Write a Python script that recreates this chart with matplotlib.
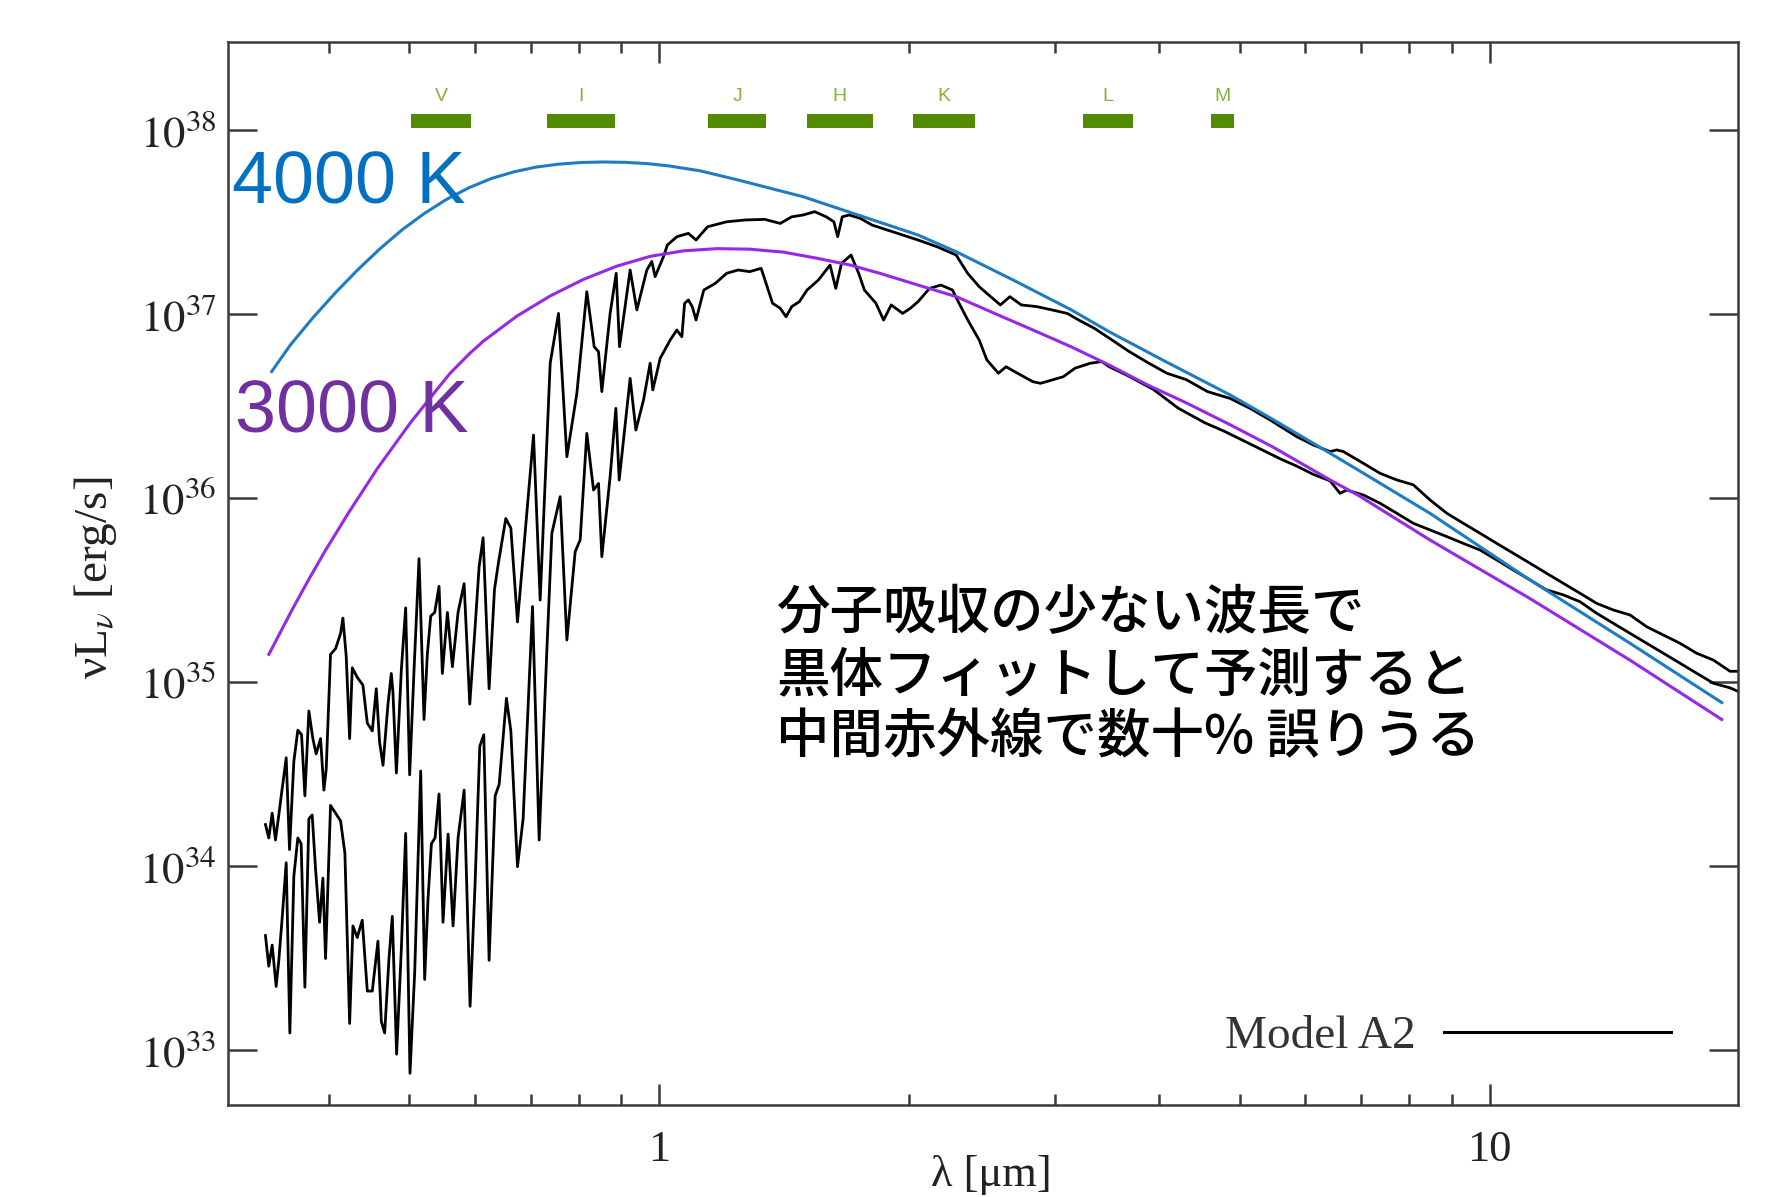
import numpy as np
import matplotlib
matplotlib.use('Agg')
import matplotlib.pyplot as plt
from matplotlib.lines import Line2D
from matplotlib import transforms
from matplotlib.ticker import LogLocator, NullLocator, NullFormatter

plt.rcParams['font.family'] = ['Liberation Serif', 'DejaVu Serif']
plt.rcParams['mathtext.fontset'] = 'stix'

#%% values read off the figure : log10(lambda / um) and log10(nuL_nu / erg s-1)
log_lam_upper = [
    -0.4745, -0.4705, -0.4664, -0.4624, -0.4584, -0.4552, -0.4495, -0.4455, -0.4403, -0.4355,
    -0.4310, -0.4270, -0.4222, -0.4174, -0.4134, -0.4081, -0.4041, -0.4013, -0.3961, -0.3900,
    -0.3840, -0.3812, -0.3772, -0.3731, -0.3699, -0.3639, -0.3571, -0.3518, -0.3458, -0.3410,
    -0.3370, -0.3329, -0.3269, -0.3229, -0.3209, -0.3168, -0.3108, -0.3056, -0.3008, -0.2955,
    -0.2895, -0.2835, -0.2795, -0.2754, -0.2706, -0.2654, -0.2614, -0.2553, -0.2493, -0.2425,
    -0.2352, -0.2284, -0.2220, -0.2171, -0.2123, -0.2051, -0.1986, -0.1938, -0.1850, -0.1789,
    -0.1709, -0.1516, -0.1436, -0.1315, -0.1215, -0.1114, -0.0994, -0.0874, -0.0785, -0.0733,
    -0.0693, -0.0593, -0.0520, -0.0480, -0.0352, -0.0271, -0.0151, -0.0091, -0.0051, 0.0050,
    0.0097, 0.0212, 0.0350, 0.0442, 0.0581, 0.0811, 0.1042, 0.1272, 0.1456, 0.1595,
    0.1733, 0.1871, 0.2010, 0.2102, 0.2148, 0.2203, 0.2286, 0.2424, 0.2563, 0.2747,
    0.2931, 0.3116, 0.3346, 0.3577, 0.3600, 0.3715, 0.3853, 0.3991, 0.4107, 0.4222,
    0.4360, 0.4545, 0.4729, 0.4913, 0.5052, 0.5236, 0.5421, 0.5651, 0.5882, 0.6112,
    0.6347, 0.6603, 0.6875, 0.7115, 0.7356, 0.7678, 0.7878, 0.8079, 0.8159, 0.8240,
    0.8481, 0.8681, 0.8882, 0.9083, 0.9284, 0.9485, 0.9685, 0.9886, 1.0087, 1.0288,
    1.0488, 1.0689, 1.0890, 1.1090, 1.1291, 1.1492, 1.1693, 1.1893, 1.2094, 1.2295,
    1.2495, 1.2696, 1.2816, 1.2897, 1.2977]
log_lum_upper = [
    34.227, 34.154, 34.289, 34.143, 34.279, 34.393, 34.590, 34.091, 34.570, 34.740,
    34.715, 34.383, 34.844, 34.694, 34.611, 34.694, 34.414, 34.528, 35.152, 35.183,
    35.266, 35.349, 35.141, 34.694, 35.079, 35.027, 34.985, 34.778, 34.736, 34.965,
    34.674, 34.549, 34.881, 35.048, 34.944, 34.507, 35.069, 35.405, 34.497, 35.069,
    35.672, 34.798, 35.152, 35.360, 35.380, 35.522, 35.048, 35.380, 35.085, 35.380,
    35.536, 34.881, 35.297, 35.630, 35.786, 34.965, 35.505, 35.651, 35.890, 35.838,
    35.328, 36.344, 35.447, 36.734, 37.005, 36.226, 36.570, 37.123, 36.824, 36.797,
    36.580, 37.005, 37.223, 36.824, 37.241, 37.024, 37.241, 37.287, 37.205, 37.314,
    37.377, 37.422, 37.440, 37.404, 37.476, 37.503, 37.513, 37.516, 37.494, 37.530,
    37.540, 37.558, 37.530, 37.503, 37.422, 37.530, 37.540, 37.521, 37.485, 37.458,
    37.431, 37.404, 37.367, 37.322, 37.304, 37.222, 37.150, 37.096, 37.051, 37.096,
    37.051, 37.042, 37.024, 37.005, 36.969, 36.925, 36.870, 36.800, 36.738, 36.680,
    36.645, 36.580, 36.543, 36.489, 36.426, 36.335, 36.290, 36.254, 36.263, 36.254,
    36.190, 36.136, 36.100, 36.073, 35.991, 35.919, 35.864, 35.810, 35.755, 35.701,
    35.647, 35.592, 35.538, 35.484, 35.429, 35.393, 35.366, 35.302, 35.257, 35.212,
    35.158, 35.121, 35.085, 35.060, 35.060]

log_lam_lower = [
    -0.4745, -0.4705, -0.4664, -0.4616, -0.4584, -0.4544, -0.4495, -0.4451, -0.4403, -0.4355,
    -0.4315, -0.4270, -0.4222, -0.4182, -0.4142, -0.4093, -0.4053, -0.4021, -0.3961, -0.3900,
    -0.3840, -0.3788, -0.3731, -0.3691, -0.3639, -0.3579, -0.3518, -0.3458, -0.3390, -0.3349,
    -0.3309, -0.3257, -0.3217, -0.3165, -0.3108, -0.3056, -0.3004, -0.2947, -0.2875, -0.2827,
    -0.2787, -0.2746, -0.2702, -0.2654, -0.2606, -0.2545, -0.2485, -0.2425, -0.2352, -0.2280,
    -0.2220, -0.2163, -0.2115, -0.2051, -0.1978, -0.1930, -0.1842, -0.1789, -0.1709, -0.1641,
    -0.1528, -0.1448, -0.1355, -0.1295, -0.1195, -0.1114, -0.1014, -0.0954, -0.0874, -0.0793,
    -0.0733, -0.0693, -0.0593, -0.0524, -0.0484, -0.0352, -0.0283, -0.0191, -0.0111, -0.0079,
    0.0010, 0.0130, 0.0210, 0.0271, 0.0304, 0.0350, 0.0396, 0.0442, 0.0535, 0.0673,
    0.0811, 0.0949, 0.1088, 0.1226, 0.1272, 0.1364, 0.1456, 0.1526, 0.1595, 0.1687,
    0.1779, 0.1917, 0.2056, 0.2125, 0.2194, 0.2309, 0.2401, 0.2470, 0.2609, 0.2701,
    0.2793, 0.2931, 0.3024, 0.3116, 0.3254, 0.3392, 0.3531, 0.3600, 0.3715, 0.3853,
    0.3945, 0.4084, 0.4176, 0.4314, 0.4499, 0.4591, 0.4729, 0.4867, 0.5006, 0.5190,
    0.5328, 0.5420, 0.5650, 0.5950, 0.6250, 0.6573, 0.6803, 0.7075, 0.7276, 0.7477,
    0.7678, 0.7878, 0.8079, 0.8199, 0.8280, 0.8481, 0.8681, 0.8882, 0.9083, 0.9284,
    0.9485, 0.9685, 0.9886, 1.0087, 1.0288, 1.0488, 1.0689, 1.0890, 1.1090, 1.1291,
    1.1693, 1.2094, 1.2495, 1.2696, 1.2897, 1.2997]
log_lum_lower = [
    33.624, 33.457, 33.572, 33.347, 33.489, 33.717, 34.019, 33.094, 33.946, 34.154,
    34.123, 33.343, 34.258, 34.279, 33.988, 33.696, 33.936, 33.499, 34.331, 34.289,
    34.247, 34.071, 33.146, 33.676, 33.613, 33.707, 33.322, 33.322, 33.593, 33.156,
    33.094, 33.499, 33.728, 32.979, 33.551, 34.179, 32.875, 33.426, 34.518, 33.385,
    33.821, 34.123, 34.154, 34.393, 33.696, 34.175, 33.676, 34.154, 34.414, 33.239,
    33.904, 34.653, 34.715, 33.489, 34.383, 34.445, 34.913, 34.736, 33.998, 34.258,
    35.412, 34.143, 35.176, 35.810, 36.009, 35.230, 35.710, 35.774, 36.353, 36.045,
    36.081, 35.683, 36.118, 36.489, 36.099, 36.652, 36.371, 36.534, 36.734, 36.589,
    36.761, 36.860, 36.915, 36.878, 37.060, 37.078, 37.042, 36.969, 37.132, 37.168,
    37.223, 37.241, 37.232, 37.250, 37.187, 37.060, 37.033, 36.987, 37.042, 37.069,
    37.132, 37.187, 37.268, 37.141, 37.277, 37.322, 37.223, 37.132, 37.060, 36.969,
    37.051, 37.005, 37.033, 37.069, 37.141, 37.159, 37.132, 37.069, 36.969, 36.860,
    36.752, 36.680, 36.715, 36.680, 36.634, 36.625, 36.643, 36.661, 36.707, 36.734,
    36.743, 36.715, 36.665, 36.592, 36.490, 36.410, 36.365, 36.305, 36.260, 36.215,
    36.175, 36.130, 36.095, 36.027, 36.045, 36.018, 35.973, 35.919, 35.864, 35.828,
    35.792, 35.755, 35.719, 35.665, 35.610, 35.556, 35.502, 35.475, 35.438, 35.375,
    35.266, 35.158, 35.049, 34.995, 34.970, 34.950]

# blackbody curves as drawn
log_lam_bb4000 = [-0.4670, -0.4444, -0.4176, -0.3907, -0.3638, -0.3369, -0.3100, -0.2832,
                  -0.2563, -0.2294, -0.2025, -0.1756, -0.1487, -0.1218, -0.0949, -0.0680,
                  -0.0412, -0.0143, 0.0125, 0.0491, 0.0949, 0.1733, 0.2332, 0.3116, 0.3577,
                  0.4268, 0.4959, 0.5420, 0.6112, 0.6875, 0.7386, 0.8079, 0.8424, 0.9284,
                  1.0488, 1.1693, 1.2797]
log_lum_bb4000 = [36.689, 36.834, 36.980, 37.115, 37.240, 37.355, 37.459, 37.548,
                  37.625, 37.688, 37.738, 37.774, 37.800, 37.816, 37.825, 37.828,
                  37.826, 37.819, 37.806, 37.780, 37.730, 37.639, 37.549, 37.431, 37.340,
                  37.185, 37.025, 36.905, 36.740, 36.562, 36.430, 36.245, 36.152, 35.918,
                  35.556, 35.212, 34.890]

log_lam_bb3000 = [-0.4704, -0.4423, -0.4222, -0.4021, -0.3739, -0.3400, -0.3000, -0.2700,
                  -0.2520, -0.2279, -0.2118, -0.1717, -0.1315, -0.0914, -0.0512, -0.0111,
                  0.0291, 0.0692, 0.1093, 0.1495, 0.1896, 0.2298, 0.2655, 0.3116, 0.3577,
                  0.4038, 0.4499, 0.4959, 0.5420, 0.5881, 0.6342, 0.6875, 0.7386, 0.8079,
                  0.8424, 0.9284, 1.0488, 1.1693, 1.2797]
log_lum_bb3000 = [35.152, 35.395, 35.560, 35.718, 35.925, 36.160, 36.410, 36.580,
                  36.680, 36.790, 36.855, 36.990, 37.100, 37.190, 37.262, 37.315,
                  37.345, 37.357, 37.354, 37.338, 37.305, 37.268, 37.223, 37.159, 37.096,
                  37.005, 36.915, 36.824, 36.724, 36.616, 36.520, 36.400, 36.280, 36.100,
                  36.015, 35.773, 35.455, 35.120, 34.798]

# photometric bands (um)
band_names = ['V', 'I', 'J', 'H', 'K', 'L', 'M']
band_lo = [0.502, 0.733, 1.146, 1.504, 2.022, 3.240, 4.613]
band_hi = [0.593, 0.883, 1.345, 1.807, 2.399, 3.721, 4.925]

y_exponents = [33, 34, 35, 36, 37, 38]
x_major = [1, 10]
x_major_labels = ['1', '10']

note_lines = ['分子吸収の少ない波長で',
              '黒体フィットして予測すると',
              '中間赤外線で数十% 誤りうる']

#%% figure
fig = plt.figure(figsize=(17.76, 11.97), dpi=100)
ax = fig.add_axes([0.1282, 0.0769, 0.8506, 0.8880])
ax.set_xscale('log')
ax.set_yscale('log')

ax.plot(10**np.array(log_lam_upper), 10**np.array(log_lum_upper), color='black', lw=2.0, zorder=2)
ax.plot(10**np.array(log_lam_lower), 10**np.array(log_lum_lower), color='black', lw=2.0, zorder=2)
ax.plot(10**np.array(log_lam_bb3000), 10**np.array(log_lum_bb3000), color='#9628e6', lw=2.2, zorder=3)
ax.plot(10**np.array(log_lam_bb4000), 10**np.array(log_lum_bb4000), color='#1f7cc2', lw=2.2, zorder=3)

ax.set_xlim(0.302, 19.94)
ax.set_ylim(10**32.703, 10**38.48)

# bands on top
trans = transforms.blended_transform_factory(ax.transData, ax.transAxes)
for name, lo, hi in zip(band_names, band_lo, band_hi):
    ax.axvspan(lo, hi, ymin=0.9187, ymax=0.9321, color='#548a00', lw=0, zorder=4)
    ax.text(np.sqrt(lo * hi), 0.9491, name, transform=trans, ha='center', va='center',
            fontsize=14, color='#84b23c', family='Liberation Sans', zorder=4)

# ticks
ax.set_yticks([10.0**e for e in y_exponents], labels=[f'$10^{{{e}}}$' for e in y_exponents])
ax.yaxis.set_minor_locator(NullLocator())
ax.set_xticks(x_major, labels=x_major_labels)
ax.xaxis.set_minor_locator(LogLocator(base=10, subs=np.arange(2, 10)))
ax.xaxis.set_minor_formatter(NullFormatter())
ax.tick_params(which='both', direction='in', top=True, right=True, color='#3a3a3a',
               width=1.8, labelcolor='#222222')
ax.tick_params(axis='y', which='major', length=21, labelsize=32, pad=8)
ax.tick_params(axis='x', which='major', length=15, labelsize=32, pad=18)
ax.tick_params(axis='x', which='minor', length=8)
for s in ax.spines.values():
    s.set_linewidth(1.8)
    s.set_color('#3a3a3a')

# annotations
ax.text(0.003, 0.8668, '4000 K', transform=ax.transAxes, ha='left', va='center',
        fontsize=53, color='#0070c0', family='Liberation Sans', zorder=5)
ax.text(0.005, 0.6506, '3000 K', transform=ax.transAxes, ha='left', va='center',
        fontsize=53, color='#7030a0', family='Liberation Sans', zorder=5)
ax.text(0.363, 0.4036, '\n'.join(note_lines), transform=ax.transAxes, ha='left', va='center',
        fontsize=38.5, linespacing=1.2, color='black', fontweight='medium',
        family=['Noto Sans CJK JP', 'DejaVu Sans'], zorder=5)

handle = Line2D([], [], color='black', lw=2.2)
leg = ax.legend([handle], ['Model A2'], loc='center right', bbox_to_anchor=(0.9555, 0.0643),
                frameon=False, markerfirst=False, handlelength=4.8, handletextpad=0.6,
                borderpad=0, borderaxespad=0, prop={'family': 'Liberation Serif', 'size': 34})
for t in leg.get_texts():
    t.set_color('#333333')

fig.text(0.054, 0.517, r'νL$_\nu$ [erg/s]', rotation=90, ha='center', va='center',
         fontsize=34, color='#222222')
fig.text(0.558, 0.002, 'λ [μm]', ha='center', va='bottom', fontsize=32, color='#222222')

fig.savefig('out.png', dpi=100)
